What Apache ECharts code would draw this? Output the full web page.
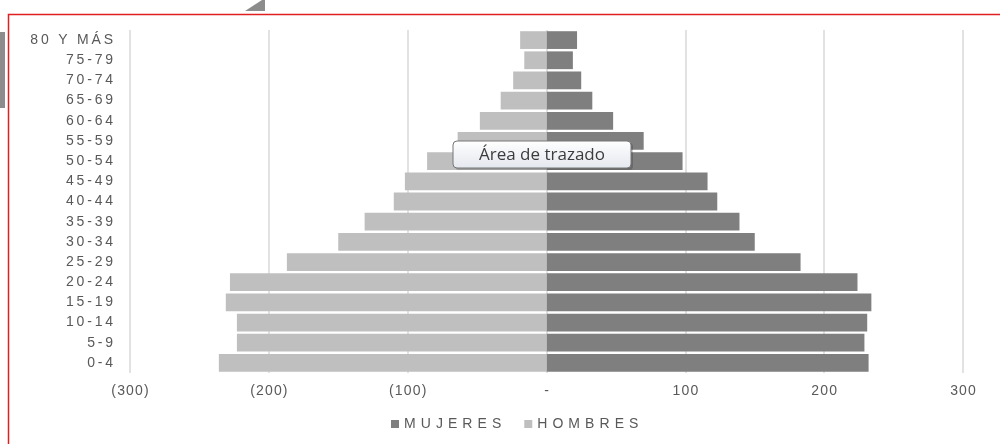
<!DOCTYPE html>
<html>
<head>
<meta charset="utf-8">
<script src="https://cdn.jsdelivr.net/npm/echarts@6/dist/echarts.min.js"></script>
<style>
  html, body { margin: 0; padding: 0; background: #fff; }
  #chart { width: 1000px; height: 444px; }
</style>
</head>
<body>
<div id="chart"></div>
<script>
// age groups, bottom to top
var ageGroups = ["0-4", "5-9", "10-14", "15-19", "20-24", "25-29", "30-34", "35-39",
  "40-44", "45-49", "50-54", "55-59", "60-64", "65-69", "70-74", "75-79", "80 Y MÁS"];
var hombres = [236, 223, 223, 231, 228, 187, 150, 131, 110, 102, 86, 64, 48, 33, 24, 16, 19];
var mujeres = [232, 229, 231, 234, 224, 183, 150, 139, 123, 116, 98, 70, 48, 33, 25, 19, 22];
var xTicks = [-300, -200, -100, 0, 100, 200, 300];

// the original labels are drawn wide, so pad letters a bit
function spaced(s, gap) {
  return s.split("").join(gap);
}

function fmtTick(v) {
  var s;
  if (v === 0) s = "-";
  else if (v < 0) s = "(" + (-v) + ")";
  else s = String(v);
  return spaced(s, "\u200A");
}

var txtColor = "#595959";
var font = "'Liberation Sans', Arial, sans-serif";

var chart = echarts.init(document.getElementById("chart"), null, { renderer: "canvas" });

var option = {
  animation: false,
  grid: { left: 130, right: 37, top: 30, bottom: 71, containLabel: false },
  legend: {
    data: ["MUJERES", "HOMBRES"],
    top: 412,
    left: 386,
    itemWidth: 8,
    itemHeight: 8,
    itemGap: 23,
    icon: "rect",
    formatter: function (name) { return spaced(name, " \u200A"); },
    textStyle: { color: txtColor, fontFamily: font, fontSize: 14 }
  },
  xAxis: {
    type: "value",
    min: xTicks[0],
    max: xTicks[xTicks.length - 1],
    interval: 100,
    axisLine: { show: false },
    axisTick: { show: false },
    axisLabel: { color: txtColor, fontFamily: font, fontSize: 14, margin: 11, formatter: fmtTick },
    splitLine: { lineStyle: { color: "#d9d9d9", width: 1.5 } }
  },
  yAxis: {
    type: "category",
    data: ageGroups,
    axisLine: { show: false },
    axisTick: { show: false },
    axisLabel: {
      color: txtColor, fontFamily: font, fontSize: 14, margin: 17,
      formatter: function (v) { return spaced(v, "\u2009"); }
    }
  },
  series: [
    {
      name: "MUJERES",
      type: "bar",
      stack: "pop",
      barCategoryGap: "12%",
      itemStyle: { color: "#7f7f7f" },
      data: mujeres
    },
    {
      name: "HOMBRES",
      type: "bar",
      stack: "pop",
      barCategoryGap: "12%",
      itemStyle: { color: "#bfbfbf" },
      data: hombres.map(function (v) { return -v; })
    }
  ],
  graphic: [
    // red selection border
    { type: "rect", left: 6, top: 12, shape: { width: 1000, height: 440 },
      style: { fill: "none", stroke: "#e02020", lineWidth: 1.5 }, z: 100 },
    // bits of the screenshot behind the chart
    { type: "rect", left: 0, top: 32, shape: { width: 5, height: 76 },
      style: { fill: "#8c8c8c" }, z: 100 },
    { type: "polygon", shape: { points: [[245, 11], [262, 0], [265, 0], [265, 11]] },
      style: { fill: "#8c8c8c" }, z: 100 },
    // "Área de trazado" hover label
    { type: "rect", z: 100, shape: { x: 455, y: 143, width: 178, height: 27, r: 4 },
      style: { fill: "rgba(0,0,0,0.18)" } },
    { type: "rect", z: 101, shape: { x: 453, y: 141, width: 178, height: 27, r: 4 },
      style: {
        fill: new echarts.graphic.LinearGradient(0, 0, 0, 1, [
          { offset: 0, color: "#ffffff" }, { offset: 1, color: "#e4e7ee" }
        ]),
        stroke: "#767676", lineWidth: 1
      } },
    { type: "text", z: 102, x: 542, y: 155,
      style: { text: "Área de trazado", fill: "#3c3c3c", fontSize: 17,
        fontFamily: "'Open Sans', 'DejaVu Sans', sans-serif", align: "center", verticalAlign: "middle" } }
  ]
};

chart.setOption(option);
window.addEventListener("resize", chart.resize);
</script>
</body>
</html>
